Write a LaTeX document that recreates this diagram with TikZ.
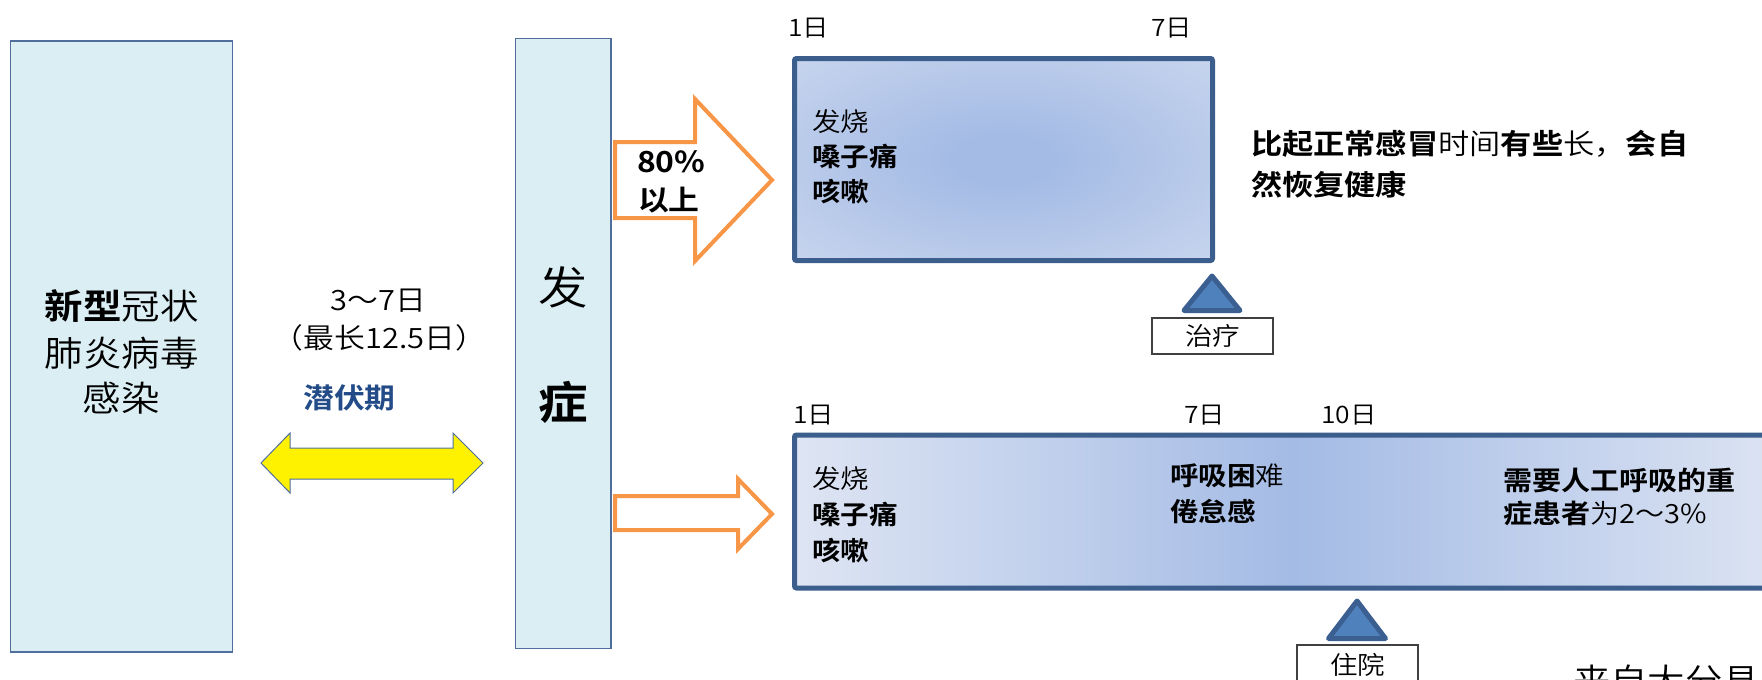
\documentclass[tikz,border=0pt]{standalone}
\usepackage{fontspec}
\setmainfont{Noto Sans CJK SC DemiLight}[FakeStretch=1.1,BoldFont={Noto Sans CJK SC Bold}]
\definecolor{paleblue}{RGB}{218,238,243}
\definecolor{thinedge}{RGB}{80,110,155}
\definecolor{boxedge}{RGB}{59,94,140}
\definecolor{shadelight}{RGB}{222,229,243}
\definecolor{shadedark}{RGB}{164,187,229}
\definecolor{arroworange}{RGB}{247,150,70}
\definecolor{trifill}{RGB}{79,129,189}
\definecolor{tristroke}{RGB}{59,95,145}
\definecolor{labelblue}{RGB}{35,75,135}
\pgfdeclareradialshading{softspot}{\pgfpoint{0bp}{0bp}}{color(0bp)=(shadedark); color(6bp)=(shadedark); color(55bp)=(shadelight); color(80bp)=(shadelight)}
\newcommand\myfs[2]{\fontsize{#1}{#2}\selectfont}
\begin{document}
\begin{tikzpicture}[x=0.5pt,y=-0.5pt,
  stagebox/.style={draw=thinedge,line width=0.7pt,fill=paleblue,inner sep=0pt,outer sep=0pt},
  coursebox/.style={draw=boxedge,line width=2.5pt,rounded corners=1pt,inner sep=0pt,outer sep=0pt},
  txt/.style={inner sep=0pt,outer sep=0pt,anchor=base west},
  ctxt/.style={inner sep=0pt,outer sep=0pt,anchor=base},
  blockarrow/.style={draw=arroworange,line width=2pt,fill=white,miter limit=10},
  dblarrow/.style={draw=thinedge,line width=0.5pt,fill=yellow},
  marker/.style={draw=tristroke,line width=2.5pt,fill=trifill,line join=round},
  tag/.style={draw=black!75,line width=0.6pt,fill=white,inner sep=0pt,outer sep=0pt,font=\myfs{12.5pt}{15pt}}]
\useasboundingbox (0,0) rectangle (1762,680);
\clip (0,0) rectangle (1762,680);

% main boxes
\node[stagebox,minimum width=111pt,minimum height=305.5pt] (infect) at (121.5,346.5) {};
\node[stagebox,minimum width=47.75pt,minimum height=305pt] (onset) at (563.25,343.5) {};
\node[coursebox,minimum width=209pt,minimum height=101pt,shading=softspot] (mild) at (1003.5,159.5) {};
\node[coursebox,minimum width=500.25pt,minimum height=76.5pt,left color=shadelight,right color=shadelight,middle color=shadedark] (severe) at (1294.75,511.5) {};

% left box text
\node[ctxt,font=\myfs{17.5pt}{22pt}] (inf1) at (121.5,319) {\textbf{新型}冠状};
\node[ctxt,font=\myfs{17.5pt}{22pt}] (inf2) at (121.5,366) {肺炎病毒};
\node[ctxt,font=\myfs{17.5pt}{22pt}] (inf3) at (121.5,411) {感染};

% onset text
\node[ctxt,font=\myfs{22.5pt}{26pt}] (on1) at (563.25,304) {发};
\node[ctxt,font=\myfs{22.5pt}{26pt}] (on2) at (563.25,419) {\textbf{症}};

% incubation
\node[ctxt,font=\myfs{14pt}{16pt}] (inc1) at (378.5,310) {3～7日};
\node[ctxt,font=\myfs{14pt}{16pt}] (inc2) at (379.5,348) {（最长12.5日）};
\node[ctxt,font=\myfs{14pt}{16pt}\bfseries,text=labelblue] (inc3) at (349.5,408) {潜伏期};

% yellow double arrow
\draw[dblarrow] (261,463) -- (290,433) -- (290,448) -- (453,448) -- (453,433) -- (483,463)
  -- (453,493) -- (453,479) -- (290,479) -- (290,493) -- cycle;

% orange block arrows
\draw[blockarrow] (615,142) -- (695,142) -- (695,99) -- (772,180) -- (695,261) -- (695,218) -- (615,218) -- cycle;
\draw[blockarrow] (615,496) -- (738,496) -- (738,479) -- (772,514) -- (738,549) -- (738,530) -- (615,530) -- cycle;
\node[txt,font=\myfs{14.5pt}{16pt}\bfseries] (pct1) at (637,172) {80\%};
\node[txt,font=\myfs{14pt}{16pt}\bfseries] (pct2) at (638,210) {以上};

% day labels
\node[txt,font=\myfs{12pt}{13pt}] (d1a) at (788,36) {1日};
\node[txt,font=\myfs{12pt}{13pt}] (d7a) at (1151,36) {7日};
\node[txt,font=\myfs{12pt}{13pt}] (d1b) at (793,423) {1日};
\node[txt,font=\myfs{12pt}{13pt}] (d7b) at (1184,423) {7日};
\node[txt,font=\myfs{12pt}{13pt}] (d10b) at (1321,423) {10日};

% mild box text
\node[txt,font=\myfs{13pt}{17pt}] (m1) at (812,131) {发烧};
\node[txt,font=\myfs{13pt}{17pt}] (m2) at (812,166) {\textbf{嗓子痛}};
\node[txt,font=\myfs{13pt}{17pt}] (m3) at (812,201) {\textbf{咳嗽}};

% severe box text
\node[txt,font=\myfs{13pt}{17pt}] (s1) at (812,488) {发烧};
\node[txt,font=\myfs{13pt}{17pt}] (s2) at (812,524) {\textbf{嗓子痛}};
\node[txt,font=\myfs{13pt}{17pt}] (s3) at (812,560) {\textbf{咳嗽}};
\node[txt,font=\myfs{13pt}{17pt}] (s4) at (1170,485) {\textbf{呼吸困}难};
\node[txt,font=\myfs{13pt}{17pt}] (s5) at (1170,521) {\textbf{倦怠感}};
\node[txt,font=\myfs{13.2pt}{17pt}] (s6) at (1503,490) {\textbf{需要人工呼吸的重}};
\node[txt,font=\myfs{13.2pt}{17pt}] (s7) at (1503,523) {\textbf{症患者}为2～3\%};

% recovery note
\node[txt,font=\myfs{14.2pt}{20pt}] (r1) at (1251,154) {\textbf{比起正常感冒}时间\textbf{有些}长，\textbf{会自}};
\node[txt,font=\myfs{14.2pt}{20pt}] (r2) at (1251,195) {\textbf{然恢复健康}};

% markers
\draw[marker] (1212,276) -- (1240,310.5) -- (1184,310.5) -- cycle;
\node[tag,minimum width=60.5pt,minimum height=18pt] (treat) at (1212.5,336) {治疗};
\draw[marker] (1357,601) -- (1385.5,638.5) -- (1328.5,638.5) -- cycle;
\node[tag,minimum width=60.5pt,minimum height=20pt] (hosp) at (1357.5,665) {住院};

% source
\node[txt,font=\myfs{17pt}{20pt}] (src) at (1573,693) {来自大分县};
\end{tikzpicture}
\end{document}
